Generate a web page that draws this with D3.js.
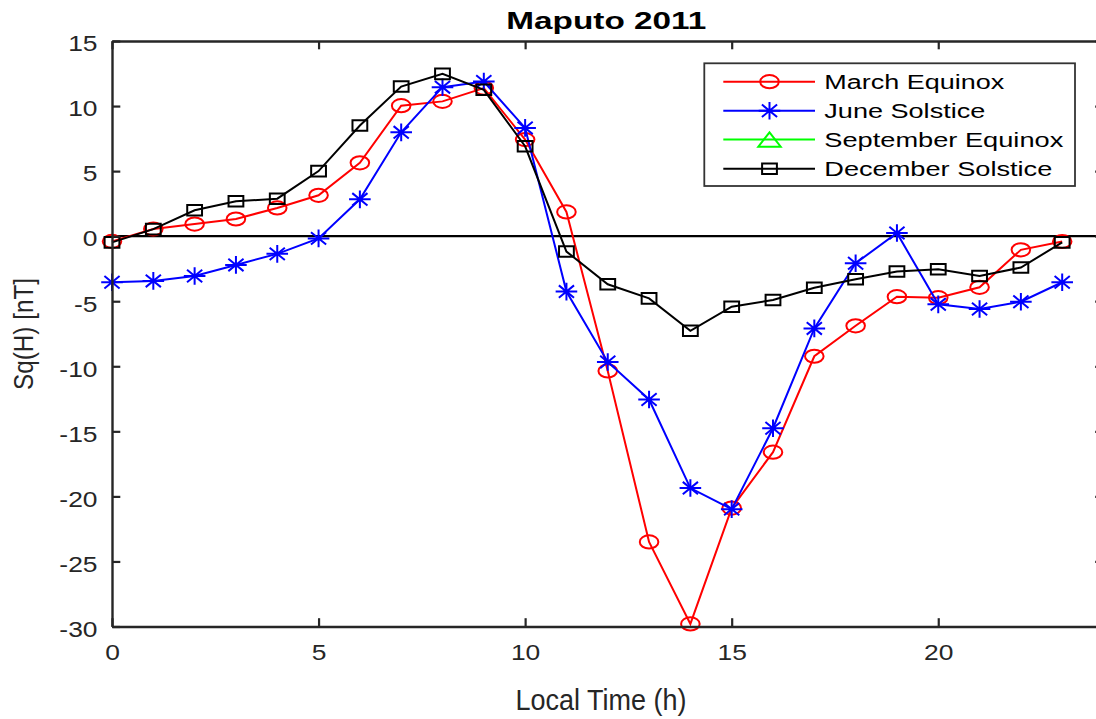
<!DOCTYPE html>
<html>
<head>
<meta charset="utf-8">
<script src="https://cdn.jsdelivr.net/npm/d3@7"></script>
<style>
  html, body { margin: 0; padding: 0; background: #fff; }
  svg { display: block; font-family: "Liberation Sans", Arial, Helvetica, sans-serif; }
</style>
</head>
<body>
<svg id="chart" width="1096" height="719"></svg>
<script>
// ---- data ----
const hours = [0,1,2,3,4,5,6,7,8,9,10,11,12,13,14,15,16,17,18,19,20,21,22,23];
const marchEquinox = [-0.4, 0.55, 0.93, 1.32, 2.17, 3.14, 5.64, 10.03, 10.36, 11.38, 7.42, 1.86, -10.36, -23.5, -29.8, -20.9, -16.6, -9.23, -6.89, -4.65, -4.73, -3.93, -1.05, -0.41];
const juneSolstice = [-3.54, -3.44, -3.06, -2.21, -1.36, -0.17, 2.83, 7.98, 11.45, 11.89, 8.32, -4.26, -9.67, -12.55, -19.36, -20.98, -14.76, -7.09, -2.08, 0.24, -5.24, -5.6, -5.04, -3.54];
const septemberEquinox = []; // not visible in the figure
const decemberSolstice = [-0.48, 0.54, 1.99, 2.68, 2.88, 5.0, 8.5, 11.5, 12.47, 11.25, 6.91, -1.18, -3.7, -4.78, -7.27, -5.42, -4.91, -3.96, -3.31, -2.72, -2.54, -3.06, -2.41, -0.48];
const seriesNames = ["March Equinox", "June Solstice", "September Equinox", "December Solstice"];
const xTicks = [0, 5, 10, 15, 20];
const yTicks = [-30, -25, -20, -15, -10, -5, 0, 5, 10, 15];
const titleText = "Maputo 2011";
const xLabel = "Local Time (h)";
const yLabel = "Sq(H) [nT]";

// ---- layout ----
const svg = d3.select("#chart");
const L = 112, R = 1103.5, T = 41, B = 626.5;
const x = d3.scaleLinear().domain([0, 24]).range([L, R]);
const y = d3.scaleLinear().domain([-30, 15]).range([B, T]);
const axisColor = "#262626";

const series = [
  { name: seriesNames[0], values: marchEquinox, color: "#ff0000", marker: "circle" },
  { name: seriesNames[1], values: juneSolstice, color: "#0000ff", marker: "star" },
  { name: seriesNames[2], values: septemberEquinox, color: "#00ff00", marker: "triangle" },
  { name: seriesNames[3], values: decemberSolstice, color: "#000000", marker: "square" }
];

function markerPath(type) {
  if (type === "circle") {
    const rx = 9.3, ry = 6.6;
    return `M${-rx},0A${rx},${ry} 0 1,0 ${rx},0A${rx},${ry} 0 1,0 ${-rx},0Z`;
  }
  if (type === "square") {
    const w = 7.4, h = 5.3;
    return `M${-w},${-h}H${w}V${h}H${-w}Z`;
  }
  if (type === "star") {
    const hw = 10.8, hh = 8.8, dx = 7.6, dy = 6.2;
    return `M${-hw},0H${hw}M0,${-hh}V${hh}M${-dx},${-dy}L${dx},${dy}M${-dx},${dy}L${dx},${-dy}`;
  }
  if (type === "triangle") {
    const w = 11.2, h = 7.2;
    return `M0,${-h}L${w},${h}L${-w},${h}Z`;
  }
  return "";
}

// zero line
svg.append("line")
  .attr("x1", x(0)).attr("x2", R)
  .attr("y1", y(0)).attr("y2", y(0))
  .attr("stroke", "#000").attr("stroke-width", 2.2);

// series
const line = d3.line().x((d, i) => x(hours[i])).y(d => y(d));
series.forEach(s => {
  if (!s.values.length) return;
  const g = svg.append("g");
  g.append("path").datum(s.values)
    .attr("d", line)
    .attr("fill", "none").attr("stroke", s.color).attr("stroke-width", 2);
  g.selectAll("path.m").data(s.values).enter().append("path")
    .attr("class", "m")
    .attr("transform", (d, i) => `translate(${x(hours[i])},${y(d)})`)
    .attr("d", markerPath(s.marker))
    .attr("fill", "none").attr("stroke", s.color).attr("stroke-width", 2);
});

// axes (ticks inward)
const tl = 8.3;
const fmt = d => String(d);
const gL = svg.append("g").attr("transform", `translate(${L},0)`)
  .call(d3.axisLeft(y).tickValues(yTicks).tickFormat(fmt).tickSize(-tl).tickSizeOuter(0).tickPadding(14.5));
const gB = svg.append("g").attr("transform", `translate(0,${B})`)
  .call(d3.axisBottom(x).tickValues(xTicks).tickFormat(fmt).tickSize(-tl).tickSizeOuter(0));
const gT = svg.append("g").attr("transform", `translate(0,${T})`)
  .call(d3.axisTop(x).tickValues(xTicks).tickSize(-tl).tickSizeOuter(0).tickFormat(""));
const gR = svg.append("g").attr("transform", `translate(${R},0)`)
  .call(d3.axisRight(y).tickValues(yTicks).tickSize(-tl).tickSizeOuter(0).tickFormat(""));

[gL, gB, gT, gR].forEach(g => {
  g.select(".domain").attr("stroke", axisColor).attr("stroke-width", 2.4);
  g.selectAll(".tick line").attr("stroke", axisColor).attr("stroke-width", 2.2);
});

function stretch(sel, factor) {
  sel.each(function() {
    const w = this.getComputedTextLength();
    d3.select(this).attr("textLength", w * factor).attr("lengthAdjust", "spacingAndGlyphs");
  });
}

gL.selectAll(".tick text")
  .attr("font-family", '"Liberation Sans", Arial, sans-serif')
  .attr("font-size", 22).attr("fill", axisColor)
  .attr("dy", null).attr("y", 9.8);
stretch(gL.selectAll(".tick text"), 1.2);

gB.selectAll(".tick text")
  .attr("font-family", '"Liberation Sans", Arial, sans-serif')
  .attr("font-size", 22).attr("fill", axisColor)
  .attr("dy", null).attr("y", 33.5);
stretch(gB.selectAll(".tick text"), 1.2);

// title
svg.append("text")
  .attr("x", 606.3).attr("y", 29.3)
  .attr("text-anchor", "middle")
  .attr("font-size", 24.6).attr("font-weight", "bold").attr("fill", "#000")
  .attr("textLength", 200).attr("lengthAdjust", "spacingAndGlyphs")
  .text(titleText);

// axis labels
svg.append("text")
  .attr("x", 601).attr("y", 710)
  .attr("text-anchor", "middle")
  .attr("font-size", 30).attr("fill", axisColor)
  .attr("textLength", 171).attr("lengthAdjust", "spacingAndGlyphs")
  .text(xLabel);

svg.append("text")
  .attr("transform", "translate(33.3,334) rotate(-90)")
  .attr("text-anchor", "middle")
  .attr("font-size", 28).attr("fill", axisColor)
  .attr("textLength", 112).attr("lengthAdjust", "spacingAndGlyphs")
  .text(yLabel);

// legend
const legendWidths = [180, 161, 239, 228];
const legendRows = [81.7, 110.8, 139.5, 168.8];
const lg = svg.append("g");
lg.append("rect")
  .attr("x", 704.3).attr("y", 63.3).attr("width", 1075 - 704.3).attr("height", 186 - 63.3)
  .attr("fill", "#fff").attr("stroke", "#333").attr("stroke-width", 1.8);
series.forEach((s, i) => {
  const yy = legendRows[i];
  lg.append("line").attr("x1", 723.3).attr("x2", 815).attr("y1", yy).attr("y2", yy)
    .attr("stroke", s.color).attr("stroke-width", 2);
  lg.append("path").attr("transform", `translate(769.5,${yy})`)
    .attr("d", markerPath(s.marker))
    .attr("fill", "none").attr("stroke", s.color).attr("stroke-width", 2);
  lg.append("text").attr("x", 824.3).attr("y", yy + 7)
    .attr("font-size", 19.5).attr("fill", "#000")
    .attr("textLength", legendWidths[i]).attr("lengthAdjust", "spacingAndGlyphs")
    .text(s.name);
});
</script>
</body>
</html>
